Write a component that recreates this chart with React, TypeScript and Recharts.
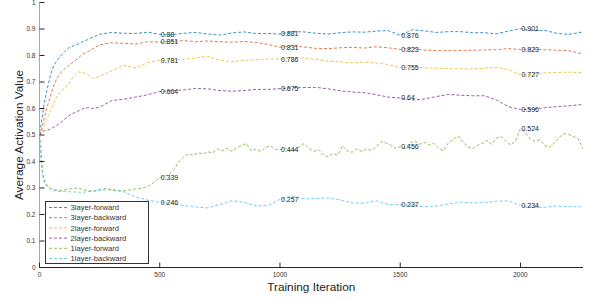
import React from 'react';
import { ComposedChart, Line, XAxis, YAxis, Scatter, Legend } from 'recharts';

const ITER = [0, 5, 10, 15, 20, 30, 40, 50, 60, 75, 90, 105, 120, 140, 160, 180, 200, 225, 250,
  300, 350, 400, 450, 500, 550, 600, 650, 700, 750, 800, 850, 900, 950, 1000, 1050, 1100, 1150,
  1200, 1250, 1300, 1350, 1400, 1450, 1500, 1550, 1600, 1650, 1700, 1750, 1800, 1850, 1900, 1950,
  2000, 2050, 2100, 2150, 2200, 2260];

const L3_FWD = [0.51, 0.53, 0.56, 0.59, 0.62, 0.665, 0.705, 0.74, 0.763, 0.785, 0.8, 0.815, 0.828, 0.836, 0.843, 0.852, 0.86, 0.87, 0.88,
  0.887, 0.884, 0.883, 0.888, 0.88, 0.878, 0.884, 0.887, 0.881, 0.877, 0.885, 0.889, 0.883, 0.883, 0.881, 0.89, 0.889, 0.884,
  0.881, 0.886, 0.889, 0.888, 0.892, 0.894, 0.876, 0.897, 0.893, 0.887, 0.89, 0.89, 0.886, 0.886, 0.882, 0.892,
  0.901, 0.893, 0.895, 0.884, 0.879, 0.889];

const L3_BWD = [0.5, 0.51, 0.525, 0.545, 0.565, 0.6, 0.63, 0.66, 0.688, 0.718, 0.737, 0.75, 0.76, 0.775, 0.79, 0.805, 0.814, 0.827, 0.84,
  0.848, 0.846, 0.843, 0.852, 0.851, 0.853, 0.856, 0.852, 0.855, 0.852, 0.85, 0.853, 0.849, 0.842, 0.831, 0.836, 0.832, 0.827,
  0.826, 0.829, 0.831, 0.828, 0.833, 0.829, 0.823, 0.828, 0.82, 0.819, 0.818, 0.819, 0.82, 0.821, 0.822, 0.826,
  0.823, 0.824, 0.822, 0.82, 0.818, 0.806];

const L2_FWD = [0.5, 0.505, 0.513, 0.525, 0.54, 0.56, 0.58, 0.6, 0.625, 0.65, 0.668, 0.678, 0.69, 0.72, 0.738, 0.736, 0.728, 0.713, 0.722,
  0.742, 0.763, 0.753, 0.773, 0.781, 0.783, 0.786, 0.79, 0.797, 0.782, 0.777, 0.782, 0.784, 0.787, 0.786, 0.793, 0.79, 0.785,
  0.779, 0.776, 0.772, 0.775, 0.772, 0.766, 0.755, 0.757, 0.753, 0.752, 0.75, 0.75, 0.749, 0.752, 0.755, 0.747,
  0.727, 0.73, 0.734, 0.736, 0.737, 0.735];

const L2_BWD = [0.5, 0.508, 0.512, 0.514, 0.516, 0.518, 0.52, 0.525, 0.53, 0.538, 0.548, 0.56, 0.572, 0.582, 0.59, 0.6, 0.603, 0.6, 0.605,
  0.63, 0.635, 0.643, 0.652, 0.664, 0.667, 0.67, 0.676, 0.674, 0.668, 0.665, 0.668, 0.672, 0.672, 0.675, 0.678, 0.679, 0.68,
  0.674, 0.667, 0.662, 0.66, 0.652, 0.643, 0.64, 0.632, 0.636, 0.645, 0.653, 0.65, 0.648, 0.648, 0.632, 0.607,
  0.596, 0.597, 0.603, 0.607, 0.61, 0.615];

const L1_BWD = [0.5, 0.42, 0.37, 0.338, 0.322, 0.307, 0.298, 0.293, 0.29, 0.288, 0.287, 0.287, 0.286, 0.285, 0.284, 0.284, 0.286, 0.288, 0.291,
  0.296, 0.286, 0.266, 0.254, 0.246, 0.243, 0.234, 0.228, 0.225, 0.238, 0.252, 0.246, 0.232, 0.234, 0.257, 0.27, 0.259, 0.26,
  0.262, 0.255, 0.243, 0.243, 0.252, 0.238, 0.237, 0.235, 0.229, 0.232, 0.24, 0.246, 0.244, 0.245, 0.25, 0.252,
  0.234, 0.228, 0.227, 0.232, 0.23, 0.229];

const ITER_L1F = [0, 5, 10, 15, 20, 30, 40, 50, 60, 75, 90, 105, 120, 140, 160, 180, 200, 225, 250, 275, 300, 325, 350, 375,
  400, 425, 450, 470, 490, 500, 520, 540, 560, 580, 600, 620, 640, 660, 680, 700, 720, 740, 760, 780, 800, 820, 840, 860,
  880, 900, 920, 940, 960, 980, 1000, 1020, 1040, 1060, 1080, 1100, 1120, 1140, 1160, 1180, 1200, 1220, 1240, 1260,
  1280, 1300, 1320, 1340, 1360, 1380, 1400, 1420, 1440, 1460, 1480, 1500, 1520, 1540, 1560, 1580, 1600, 1620, 1640,
  1660, 1680, 1700, 1720, 1740, 1760, 1780, 1800, 1820, 1840, 1860, 1880, 1900, 1920, 1940, 1960, 1980, 2000, 2020,
  2040, 2060, 2080, 2100, 2120, 2140, 2160, 2180, 2200, 2220, 2240, 2260];

const L1_FWD = [0.5, 0.46, 0.39, 0.35, 0.33, 0.312, 0.303, 0.298, 0.295, 0.292, 0.29, 0.293, 0.296, 0.298, 0.3, 0.295, 0.29, 0.288, 0.295, 0.298, 0.292, 0.288, 0.29, 0.293,
  0.297, 0.298, 0.306, 0.318, 0.332, 0.339, 0.345, 0.352, 0.37, 0.4, 0.418, 0.43, 0.424, 0.433, 0.428, 0.437, 0.432, 0.447, 0.44, 0.45, 0.438, 0.452, 0.46, 0.468,
  0.44, 0.447, 0.438, 0.452, 0.46, 0.447, 0.444, 0.452, 0.44, 0.445, 0.455, 0.468, 0.45, 0.438, 0.445, 0.425, 0.418, 0.43, 0.424, 0.46,
  0.44, 0.435, 0.448, 0.438, 0.447, 0.442, 0.455, 0.475, 0.47, 0.462, 0.45, 0.456, 0.45, 0.47, 0.478, 0.465, 0.472, 0.462, 0.468,
  0.45, 0.44, 0.47, 0.482, 0.497, 0.475, 0.455, 0.448, 0.46, 0.468, 0.48, 0.465, 0.488, 0.494, 0.475, 0.462, 0.478, 0.524, 0.51,
  0.485, 0.476, 0.482, 0.462, 0.452, 0.47, 0.49, 0.505, 0.502, 0.494, 0.485, 0.448];

const LABEL_ITERS = [500, 1000, 1500, 2000];
const L3_FWD_LABELS = [0.88, 0.881, 0.876, 0.901];
const L3_BWD_LABELS = [0.851, 0.831, 0.823, 0.823];
const L2_FWD_LABELS = [0.781, 0.786, 0.755, 0.727];
const L2_BWD_LABELS = [0.664, 0.675, 0.64, 0.596];
const L1_FWD_LABELS = [0.339, 0.444, 0.456, 0.524];
const L1_BWD_LABELS = [0.246, 0.257, 0.237, 0.234];

const X_TICKS = [0, 500, 1000, 1500, 2000];
const Y_TICKS = [0, 0.1, 0.2, 0.3, 0.4, 0.5, 0.6, 0.7, 0.8, 0.9, 1];

const toRows = (xs: number[], ys: number[]) => xs.map((x, i) => ({ x, y: ys[i] }));

const SERIES = [
  { name: '3layer-forward', color: '#0072BD', xs: ITER, ys: L3_FWD, labels: L3_FWD_LABELS },
  { name: '3layer-backward', color: '#D95319', xs: ITER, ys: L3_BWD, labels: L3_BWD_LABELS },
  { name: '2layer-forward', color: '#EDB120', xs: ITER, ys: L2_FWD, labels: L2_FWD_LABELS },
  { name: '2layer-backward', color: '#7E2F8E', xs: ITER, ys: L2_BWD, labels: L2_BWD_LABELS },
  { name: '1layer-forward', color: '#77AC30', xs: ITER_L1F, ys: L1_FWD, labels: L1_FWD_LABELS },
  { name: '1layer-backward', color: '#4DBEEE', xs: ITER, ys: L1_BWD, labels: L1_BWD_LABELS },
];

const ANNOTATIONS = SERIES.flatMap((s) =>
  LABEL_ITERS.map((it, i) => ({ x: it, y: s.labels[i], label: String(s.labels[i]) }))
);

const FONT = '"Liberation Sans", Arial, Helvetica, sans-serif';
const AXIS = '#262626';
const LINE_OPACITY = 0.78;

const BottomTick = (p: any) => (
  <g>
    <line x1={p.x} x2={p.x} y1={p.y} y2={p.y - 5} stroke={AXIS} strokeWidth={1} />
    <text x={p.x} y={p.y + 7} dy="0.35em" textAnchor="middle" fontSize={6.5} fill="#333" fontFamily={FONT}>
      {String(p.payload.value)}
    </text>
  </g>
);
const LeftTick = (p: any) => (
  <g>
    <line x1={p.x} x2={p.x + 5} y1={p.y} y2={p.y} stroke={AXIS} strokeWidth={1} />
    <text x={p.x - 4} y={p.y} dy="0.35em" textAnchor="end" fontSize={6.5} fill="#333" fontFamily={FONT}>
      {String(p.payload.value)}
    </text>
  </g>
);
const TopTick = (p: any) => (
  <line x1={p.x} x2={p.x} y1={p.y} y2={p.y + 5} stroke={AXIS} strokeWidth={1} />
);
const RightTick = (p: any) => (
  <line x1={p.x} x2={p.x - 5} y1={p.y} y2={p.y} stroke={AXIS} strokeWidth={1} />
);

const AnnotationShape = (p: any) => (
  <text x={p.cx + 1} y={p.cy} dy="0.35em" fontSize={7} fill="#222" fontFamily={FONT}>
    {p.payload.label}
  </text>
);

const LegendBox = () => (
  <svg width={104} height={63} style={{ display: 'block' }}>
    <rect x={0.5} y={0.5} width={103} height={62} fill="#fff" stroke="#333" strokeWidth={1} />
    {SERIES.map((s, i) => (
      <g key={s.name}>
        <line x1={4} x2={24} y1={6.5 + i * 10.2} y2={6.5 + i * 10.2} stroke={s.color} strokeOpacity={LINE_OPACITY} strokeDasharray="3 2" strokeWidth={1} />
        <text x={25.5} y={6.5 + i * 10.2} dy="0.35em" fontSize={7.6} fill="#333" fontFamily={FONT}>
          {s.name}
        </text>
      </g>
    ))}
  </svg>
);

export default function App() {
  return (
    <div style={{ position: 'absolute', left: 0, top: 0, background: '#fff' }}>
      <ComposedChart
        width={596}
        height={302}
        margin={{ top: 2.5, right: 13, left: 0, bottom: 0 }}
        style={{ fontFamily: FONT }}
      >
        <XAxis
          xAxisId="b"
          dataKey="x"
          type="number"
          domain={[0, 2260]}
          allowDataOverflow
          ticks={X_TICKS}
          interval={0}
          height={34.5}
          tickSize={0}
          tickMargin={0}
          tickLine={false}
          tick={BottomTick}
          axisLine={{ stroke: AXIS }}
          label={{ value: 'Training Iteration', position: 'center', dy: 2, fontSize: 11.8, fill: '#222', fontFamily: FONT }}
        />
        <XAxis
          xAxisId="t"
          orientation="top"
          dataKey="x"
          type="number"
          domain={[0, 2260]}
          allowDataOverflow
          ticks={X_TICKS}
          interval={0}
          height={0}
          tickSize={0}
          tickMargin={0}
          tickLine={false}
          tick={TopTick}
          axisLine={{ stroke: AXIS }}
        />
        <YAxis
          yAxisId="l"
          type="number"
          domain={[0, 1]}
          allowDataOverflow
          ticks={Y_TICKS}
          interval={0}
          width={39.5}
          tickSize={0}
          tickMargin={0}
          tickLine={false}
          tick={LeftTick}
          axisLine={{ stroke: '#a8a8a8' }}
          label={{ value: 'Average Activation Value', angle: -90, position: 'center', dx: -0.5, fontSize: 11.8, fill: '#222', fontFamily: FONT }}
        />
        <YAxis
          yAxisId="r"
          orientation="right"
          type="number"
          domain={[0, 1]}
          allowDataOverflow
          ticks={Y_TICKS}
          interval={0}
          width={0}
          tickSize={0}
          tickMargin={0}
          tickLine={false}
          tick={RightTick}
          axisLine={{ stroke: AXIS }}
        />
        {SERIES.map((s) => (
          <Line
            key={s.name}
            xAxisId="b"
            yAxisId="l"
            data={toRows(s.xs, s.ys)}
            dataKey="y"
            name={s.name}
            type="linear"
            stroke={s.color}
            strokeOpacity={LINE_OPACITY}
            strokeWidth={1}
            strokeDasharray="3 2"
            dot={false}
            activeDot={false}
            isAnimationActive={false}
          />
        ))}
        <Scatter
          xAxisId="b"
          yAxisId="l"
          data={ANNOTATIONS}
          dataKey="y"
          legendType="none"
          shape={AnnotationShape}
          isAnimationActive={false}
        />
        <Legend
          layout="vertical"
          align="center"
          verticalAlign="middle"
          wrapperStyle={{ position: 'absolute', left: 45, top: 200.5, width: 104, height: 63, margin: 0, padding: 0 }}
          content={LegendBox}
        />
      </ComposedChart>
    </div>
  );
}
